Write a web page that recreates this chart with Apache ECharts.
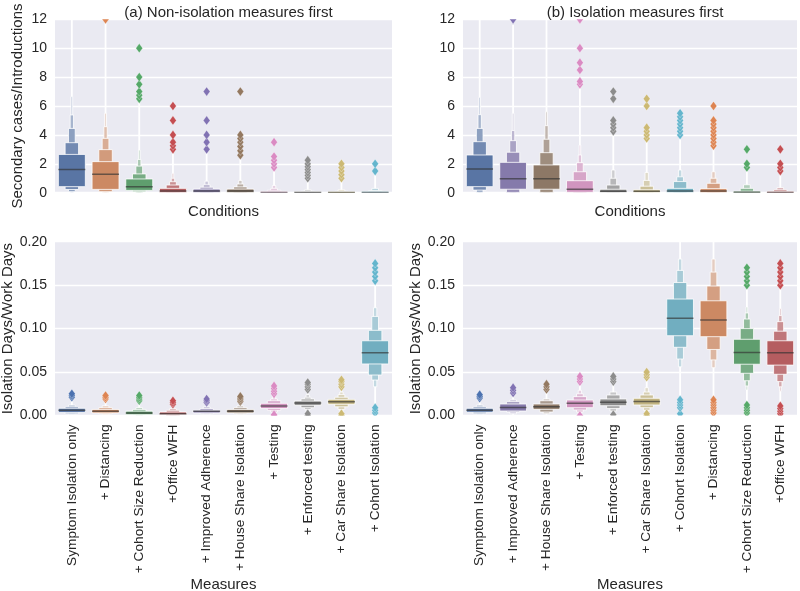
<!DOCTYPE html>
<html><head><meta charset="utf-8">
<script src="https://cdn.jsdelivr.net/npm/echarts@6/dist/echarts.min.js"></script>
<style>html,body{margin:0;padding:0;background:#fff}#c{width:800px;height:591px}</style>
</head><body><div id="c"></div>
<script>
// ---------- categories ----------
const catsLeft = ["Symptom Isolation only", "+ Distancing", "+ Cohort Size Reduction", "+Office WFH", "+ Improved Adherence", "+ House Share Isolation", "+ Testing", "+ Enforced testing", "+ Car Share Isolation", "+ Cohort Isolation"];
const catsRight = ["Symptom Isolation only", "+ Improved Adherence", "+ House Share Isolation", "+ Testing", "+ Enforced testing", "+ Car Share Isolation", "+ Cohort Isolation", "+ Distancing", "+ Cohort Size Reduction", "+Office WFH"];
const topTicks = [0, 2, 4, 6, 8, 10, 12];
const bottomTicks = ["0.00", "0.05", "0.10", "0.15", "0.20"];

// ---------- (a) top: Secondary cases / Introductions ----------
const aTopMedian = [1.6, 1.27, 0.42, 0.12, 0.12, 0.12, 0.02, 0.02, 0.02, 0.02];
const aTopUpper = [[2.65,3.46,4.45,5.38,6.65],[2.15,2.98,3.76,4.57,5.5],[0.95,1.3,1.84,2.3,2.95],[0.3,0.53,0.76,1.0,1.34],[0.25,0.38,0.55,0.8],[0.25,0.4,0.6,0.85],[0.08,0.17,0.3,0.5],[0.05,0.1,0.2],[0.05,0.1,0.2],[0.08,0.15,0.3]];
const aTopLower = [[0.42,0.22,0.07,0.03,0.01],[0.23,0.07,0.03,0.01,0],[0.16,0.07,0.02,0,0],[0.02,0.01,0,0,0],[0.02,0,0,0],[0.02,0,0,0],[0,0,0,0],[0,0,0],[0,0,0],[0,0,0]];
const aTopWhisker = [[0,13],[0,12],[0,6.5],[0,3.0],[0,3.0],[0,2.6],[0,1.75],[0,1.0],[0,1.0],[0,1.4]];
const aTopOutliers = [[],[12],[6.5,6.75,7,7.5,8,10],[3.0,3.25,3.5,4.0,5.0,6.0],[3.0,3.5,4.0,5.0,7.0],[2.6,2.9,3.2,3.5,3.75,4.0,7.0],[1.75,2.0,2.25,2.5,3.5],[1.0,1.2,1.4,1.6,1.8,2.0,2.25],[1.0,1.25,1.5,1.75,2.0],[1.5,2.0]];

// ---------- (b) top ----------
const bTopMedian = [1.64, 0.97, 0.97, 0.24, 0.1, 0.1, 0.12, 0.12, 0.03, 0.02];
const bTopUpper = [[2.61,3.53,4.45,5.4,6.6],[2.1,2.8,3.6,4.3,5.5],[1.92,2.77,3.7,4.64,5.6],[0.83,1.45,2.08,2.61,3.3],[0.24,0.53,1.0,1.57],[0.2,0.45,0.85,1.4],[0.3,0.77,1.1,1.57],[0.28,0.65,1.0,1.45],[0.1,0.3,0.55],[0.08,0.2,0.35]];
const bTopLower = [[0.42,0.18,0.03,0.01,0],[0.24,0.02,0,0,0],[0.24,0.02,0,0,0],[0.03,0,0,0,0],[0.01,0,0,0],[0.01,0,0,0],[0.01,0,0,0],[0.01,0,0,0],[0,0,0],[0,0,0]];
const bTopWhisker = [[0,13],[0,11.6],[0,13],[0,7.5],[0,4.25],[0,3.75],[0,4.0],[0,3.25],[0,1.75],[0,1.5]];
const bTopOutliers = [[],[12],[],[7.5,7.7,8.5,9.0,10.0,12.0],[4.25,4.5,4.75,5.0,6.5,7.0],[3.75,4.0,4.25,4.5,6.0,6.5],[4.0,4.25,4.5,4.75,5.0,5.25,5.5],[3.25,3.5,3.75,4.0,4.25,4.5,4.75,5.0,6.0],[1.75,2.0,3.0],[1.5,1.75,2.0,3.0]];

// ---------- (a) bottom: Isolation Days / Work Days ----------
const aBotMedian = [0.006, 0.005, 0.003, 0.002, 0.005, 0.005, 0.011, 0.0145, 0.0158, 0.0723];
const aBotUpper = [[0.0083,0.010,0.012],[0.007,0.009,0.011],[0.005,0.007,0.009],[0.004,0.006,0.008],[0.006,0.008,0.010],[0.007,0.009,0.011],[0.014,0.017,0.019,0.022],[0.0167,0.019,0.021,0.024],[0.0186,0.021,0.024,0.027],[0.086,0.098,0.114,0.124]];
const aBotLower = [[0.0035,0.002,0.001],[0.003,0.002,0.001],[0.001,0.0005,0],[0.001,0,0],[0.003,0.002,0.001],[0.003,0.002,0.001],[0.008,0.006,0.004,0.002],[0.0117,0.009,0.007,0.004],[0.0129,0.010,0.007,0.004],[0.0593,0.0466,0.0408,0.033]];
const aBotWhisker = [[0.001,0.021],[0.001,0.019],[0,0.017],[0,0.013],[0.001,0.015],[0.001,0.016],[0,0.025],[0,0.030],[0,0.033],[0.009,0.155]];
const aBotOutliers = [[0.021,0.023,0.025],[0.019,0.021,0.023],[0.017,0.019,0.021,0.023],[0.013,0.015,0.017],[0.015,0.017,0.019],[0.016,0.018,0.020,0.022],[0,0.001,0.025,0.028,0.031,0.034],[0,0.002,0.030,0.033,0.036,0.038],[0,0.002,0.033,0.036,0.039,0.041],[0.003,0.006,0.009,0.155,0.16,0.165,0.17,0.175]];

// ---------- (b) bottom ----------
const bBotMedian = [0.006, 0.0093, 0.0101, 0.0141, 0.0153, 0.016, 0.112, 0.110, 0.0725, 0.0723];
const bBotUpper = [[0.0083,0.010,0.012],[0.0132,0.016,0.018],[0.0132,0.017,0.019],[0.0178,0.0217,0.025,0.029],[0.019,0.0236,0.027],[0.0198,0.0236,0.027,0.032],[0.134,0.153,0.167,0.18],[0.132,0.149,0.165,0.18],[0.0877,0.100,0.111,0.118,0.125],[0.086,0.097,0.108,0.115,0.123]];
const bBotLower = [[0.0037,0.002,0.001],[0.0052,0.004,0.002],[0.0071,0.004,0.002],[0.009,0.0064,0.004,0.002],[0.0113,0.008,0.005],[0.0121,0.009,0.006,0.003],[0.0918,0.0785,0.065,0.056],[0.0907,0.076,0.064,0.055],[0.059,0.0486,0.040,0.034,0.0293],[0.058,0.0474,0.039,0.033,0.028]];
const bBotWhisker = [[0.001,0.020],[0.001,0.026],[0.001,0.030],[0,0.039],[0.001,0.039],[0,0.044],[0.018,0.21],[0.018,0.21],[0.012,0.15],[0.011,0.15]];
const bBotOutliers = [[0.020,0.022,0.024],[0.026,0.029,0.032],[0.030,0.033,0.036],[0,0.039,0.042,0.045],[0.001,0.039,0.042,0.045],[0,0.002,0.044,0.047,0.050],[0.002,0.009,0.012,0.015,0.018],[0.003,0.006,0.009,0.012,0.015,0.018],[0.003,0.006,0.009,0.012,0.15,0.155,0.16,0.165,0.17],[0.002,0.005,0.008,0.011,0.15,0.155,0.16,0.165,0.17,0.175]];

// ---------- styles ----------
const boxLeft  = ['#5975A4','#CC8963','#5F9E6E','#B55D60','#857AAB','#8D7866','#D095BF','#8C8C8C','#C1B37F','#71AEC0'];
const dotLeft  = ['#4C72B0','#DD8452','#55A868','#C44E52','#8172B3','#937860','#DA8BC3','#8C8C8C','#CCB974','#64B5CD'];
const boxRight = ['#5975A4','#857AAB','#8D7866','#D095BF','#8C8C8C','#C1B37F','#71AEC0','#CC8963','#5F9E6E','#B55D60'];
const dotRight = ['#4C72B0','#8172B3','#937860','#DA8BC3','#8C8C8C','#CCB974','#64B5CD','#DD8452','#55A868','#C44E52'];

function mix(hex, t) {
  const a = parseInt(hex.slice(1), 16);
  const r = (a >> 16) & 255, g = (a >> 8) & 255, b = a & 255;
  const L = [242, 242, 246];
  const f = (c, l) => Math.round(c + (l - c) * t);
  return 'rgb(' + f(r, L[0]) + ',' + f(g, L[1]) + ',' + f(b, L[2]) + ')';
}

function boxen(idx, cats, med, upper, lower, whisk, outl, boxCols, dotCols) {
  return {
    type: 'custom', xAxisIndex: idx, yAxisIndex: idx, clip: true, silent: true,
    data: cats.map((c, i) => [i, med[i]]),
    renderItem: function (params, api) {
      const i = params.dataIndex;
      const cx = api.coord([i, 0])[0];
      const bw = api.size([1, 0])[0];
      const Y = v => api.coord([i, v])[1];
      const ch = [];
      ch.push({ type: 'line', shape: { x1: cx, y1: Y(whisk[i][0]), x2: cx, y2: Y(whisk[i][1]) },
        style: { stroke: '#ffffff', lineWidth: 1.8 } });
      const n = upper[i].length;
      for (let k = n - 1; k >= 0; k--) {
        const w = bw * 0.8 * Math.pow(0.5, k);
        let yt = Y(upper[i][k]), yb = Y(lower[i][k]);
        if (yb - yt < 1.5) { const m = (yt + yb) / 2; yt = m - 0.75; yb = m + 0.75; }
        ch.push({ type: 'rect', shape: { x: cx - w / 2, y: yt, width: w, height: yb - yt },
          style: { fill: mix(boxCols[i], (k / n) * 0.85), stroke: '#ffffff', lineWidth: 0.8 } });
      }
      const w0 = bw * 0.8, ym = Y(med[i]);
      ch.push({ type: 'line', shape: { x1: cx - w0 / 2, y1: ym, x2: cx + w0 / 2, y2: ym },
        style: { stroke: 'rgba(50,50,50,0.65)', lineWidth: 1.5 } });
      outl[i].forEach(v => {
        const y = Y(v);
        ch.push({ type: 'polygon', shape: { points: [[cx, y - 4.6], [cx + 3.4, y], [cx, y + 4.6], [cx - 3.4, y]] },
          style: { fill: dotCols[i], stroke: 'rgba(255,255,255,0.6)', lineWidth: 0.5 } });
      });
      return { type: 'group', children: ch };
    }
  };
}

const FONT = 'Liberation Sans';
const TXT = '#262626';
function xAx(idx, cats, bottom, name, gap) {
  return { gridIndex: idx, type: 'category', data: cats, boundaryGap: true,
    axisLine: { show: false }, axisTick: { show: false }, splitLine: { show: false },
    axisLabel: { show: bottom, rotate: 90, interval: 0, fontSize: 13.7, color: TXT, fontFamily: FONT, margin: 9 },
    name: name, nameLocation: 'middle', nameGap: gap,
    nameTextStyle: { fontSize: 15, color: TXT, fontFamily: FONT } };
}
function yAx(idx, top, name) {
  const o = { gridIndex: idx, type: 'value', min: 0,
    axisLine: { show: false }, axisTick: { show: false },
    splitLine: { show: true, lineStyle: { color: '#ffffff', width: 1.3 } },
    axisLabel: { fontSize: 14, color: TXT, fontFamily: FONT, margin: 8 },
    name: name, nameLocation: 'middle', nameRotate: 90,
    nameTextStyle: { fontSize: 15, color: TXT, fontFamily: FONT } };
  if (top) { o.max = topTicks[topTicks.length - 1]; o.interval = topTicks[1] - topTicks[0]; o.nameGap = 30; }
  else { o.max = Number(bottomTicks[bottomTicks.length - 1]); o.interval = Number(bottomTicks[1]);
    o.axisLabel.formatter = v => v.toFixed(2); o.nameGap = 40; }
  return o;
}

const grid = (l, t, w, h) => ({ left: l, top: t, width: w, height: h, show: true,
  backgroundColor: '#EAEAF2', borderWidth: 0, containLabel: false, outerBoundsMode: 'none' });

const chart = echarts.init(document.getElementById('c'), null, { renderer: 'canvas' });
chart.setOption({
  animation: false,
  backgroundColor: '#ffffff',
  title: [
    { text: '(a) Non-isolation measures first', left: 223.5, top: 0, textAlign: 'center',
      textStyle: { fontSize: 15, fontWeight: 'normal', color: TXT, fontFamily: FONT } },
    { text: '(b) Isolation measures first', left: 630, top: 0, textAlign: 'center',
      textStyle: { fontSize: 15, fontWeight: 'normal', color: TXT, fontFamily: FONT } }
  ],
  grid: [grid(55, 19.3, 337, 173.4), grid(463, 19.3, 334, 173.4), grid(55, 241.7, 337, 173.8), grid(463, 241.7, 334, 173.8)],
  xAxis: [xAx(0, catsLeft, false, 'Conditions', 12), xAx(1, catsRight, false, 'Conditions', 12),
          xAx(2, catsLeft, true, 'Measures', 158), xAx(3, catsRight, true, 'Measures', 158)],
  yAxis: [yAx(0, true, 'Secondary cases/Introductions'), yAx(1, true, ''),
          yAx(2, false, 'Isolation Days/Work Days'), yAx(3, false, 'Isolation Days/Work Days')],
  series: [
    boxen(0, catsLeft, aTopMedian, aTopUpper, aTopLower, aTopWhisker, aTopOutliers, boxLeft, dotLeft),
    boxen(1, catsRight, bTopMedian, bTopUpper, bTopLower, bTopWhisker, bTopOutliers, boxRight, dotRight),
    boxen(2, catsLeft, aBotMedian, aBotUpper, aBotLower, aBotWhisker, aBotOutliers, boxLeft, dotLeft),
    boxen(3, catsRight, bBotMedian, bBotUpper, bBotLower, bBotWhisker, bBotOutliers, boxRight, dotRight)
  ]
});
</script></body></html>
